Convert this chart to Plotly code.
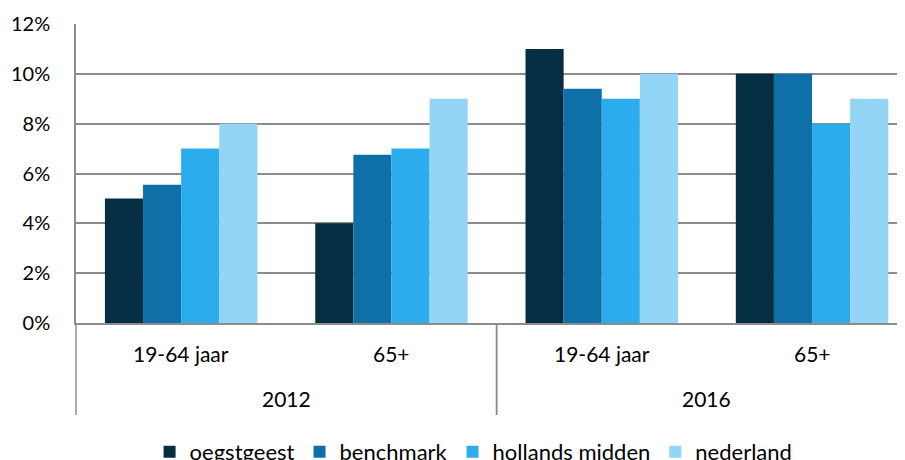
import plotly.graph_objects as go

# data (share, 0-1)
years = ["2012", "2012", "2016", "2016"]
ages = ["19-64 jaar", "65+", "19-64 jaar", "65+"]
series = ["oegstgeest", "benchmark", "hollands midden", "nederland"]
oegstgeest = [0.050, 0.040, 0.110, 0.100]
benchmark = [0.0555, 0.0675, 0.094, 0.100]
hollands_midden = [0.070, 0.070, 0.090, 0.080]
nederland = [0.080, 0.090, 0.100, 0.090]
y_ticks = [0, 0.02, 0.04, 0.06, 0.08, 0.10, 0.12]

colors = ["#062E43", "#0E70A6", "#2BACEC", "#93D5F6"]
FONT = "Lato"
GRID = "#8c8c8c"
PLOT_H = 299  # px height of the plotting area
X_MAX = 3.48  # the right end of the last category is cut off, as in the original

fig = go.Figure()
for name, vals, c in zip(series, [oegstgeest, benchmark, hollands_midden, nederland], colors):
    fig.add_trace(go.Bar(
        x=[years, ages], y=vals, name=name,
        marker=dict(color=c, line=dict(width=0)),
    ))

# two-level category labels + dividers (Excel style), placed in axis units
span_all = X_MAX + 0.5
def to_paper(v):
    return (v + 0.5) / span_all

for i, lab in enumerate(ages):
    fig.add_annotation(x=to_paper(i), y=-30 / PLOT_H, xref="paper", yref="paper",
                       text=lab, showarrow=False, xanchor="center", yanchor="middle",
                       font=dict(size=21))
uniq_years = list(dict.fromkeys(years))
for yr in uniq_years:
    first = years.index(yr)
    last = first + years.count(yr) - 1
    fig.add_annotation(x=to_paper((first + last) / 2), y=-75 / PLOT_H,
                       xref="paper", yref="paper",
                       text=yr, showarrow=False, xanchor="center", yanchor="middle",
                       font=dict(size=21))
    for xd in (first - 0.5, last + 0.5):
        fig.add_shape(type="line", xref="paper", yref="paper",
                      x0=to_paper(xd), x1=to_paper(xd), y0=0, y1=-92 / PLOT_H,
                      line=dict(color=GRID, width=1.5))

# page body has an 8px margin, so the figure is offset by 8px
fig.update_layout(
    width=905, height=460,
    margin=dict(l=68, r=0, t=16, b=145, autoexpand=False),
    paper_bgcolor="white", plot_bgcolor="white",
    barmode="group", bargap=0.275, bargroupgap=0,
    font=dict(family=FONT, size=20, color="#000000"),
    showlegend=True,
    legend=dict(orientation="h", x=0.475, xanchor="center", y=-0.431, yanchor="middle",
                font=dict(size=22), itemwidth=30, traceorder="normal"),
)
fig.update_yaxes(
    range=[0, 0.12], tickvals=y_ticks, tickformat=".0%",
    showgrid=True, gridcolor=GRID, gridwidth=1.5,
    showline=True, linecolor=GRID, linewidth=1.5,
    zeroline=False, ticks="", ticklabelstandoff=20,
)
fig.update_xaxes(
    type="multicategory", range=[-0.5, X_MAX],
    showline=True, linecolor=GRID, linewidth=1.5,
    showdividers=False, showticklabels=False, ticks="",
)

fig.write_html("out.html", config={"displayModeBar": False})
